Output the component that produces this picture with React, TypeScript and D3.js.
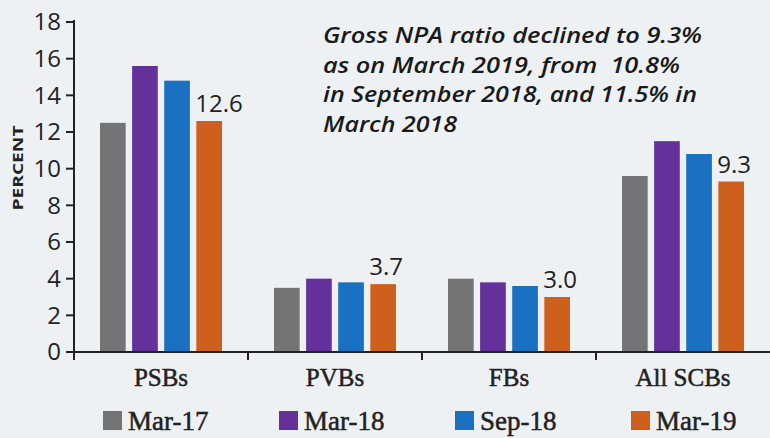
import React from "react";
import * as d3 from "d3";

const categories = ["PSBs", "PVBs", "FBs", "All SCBs"];
const seriesNames = ["Mar-17", "Mar-18", "Sep-18", "Mar-19"];
const mar17 = [12.5, 3.5, 4.0, 9.6];
const mar18 = [15.6, 4.0, 3.8, 11.5];
const sep18 = [14.8, 3.8, 3.6, 10.8];
const mar19 = [12.6, 3.7, 3.0, 9.3];
const seriesValues = [mar17, mar18, sep18, mar19];
const yTicks = [0, 2, 4, 6, 8, 10, 12, 14, 16, 18];
const valueLabels = ["12.6", "3.7", "3.0", "9.3"];
const noteLines = [
  "Gross NPA ratio declined to 9.3%",
  "as on March 2019, from  10.8%",
  "in September 2018, and 11.5% in",
  "March 2018",
];
const noteWidths = [379, 357, 374, 134];

const colors = ["#737475", "#64309a", "#1a70c1", "#cf5f1c"];

export default function App() {
  const W = 770;
  const H = 438;
  const x0 = 74;
  const yZero = 352;
  const yTop = 22;

  const y = d3.scaleLinear().domain([0, 18]).range([yZero, yTop]);
  const xBand = d3.scaleBand<string>().domain(categories).range([x0, W]).paddingInner(0).paddingOuter(0);
  const bw = xBand.bandwidth();
  const groupW = 122;
  const xInner = d3
    .scaleBand<string>()
    .domain(seriesNames)
    .range([(bw - groupW) / 2, (bw + groupW) / 2])
    .paddingInner(0.2);

  const sansFont = "'Open Sans', 'Noto Sans', sans-serif";
  const serifFont = "'Liberation Serif', 'Times New Roman', serif";

  const boundaries = categories.slice(1).map((c) => xBand(c) as number);

  return (
    <svg
      width={W}
      height={H}
      style={{ position: "absolute", left: 0, top: 0, background: "#eef1f4" }}
    >
      <rect x={0} y={0} width={W} height={H} fill="#eef1f4" />

      {/* bars */}
      {categories.map((cat, ci) => (
        <g key={cat} transform={`translate(${xBand(cat)},0)`}>
          {seriesNames.map((s, si) => {
            const v = seriesValues[si][ci];
            return (
              <rect
                key={s}
                x={xInner(s)}
                y={y(v)}
                width={xInner.bandwidth()}
                height={yZero - y(v)}
                fill={colors[si]}
              />
            );
          })}
          <text
            x={(xInner(seriesNames[3]) as number) - 1}
            y={y(mar19[ci]) - 9}
            fontFamily={sansFont}
            fontSize={24}
            fontWeight={500}
            fill="#222"
          >
            {valueLabels[ci]}
          </text>
          <text
            x={bw / 2}
            y={386}
            textAnchor="middle"
            fontFamily={serifFont}
            fontSize={25}
            fill="#222"
            stroke="#222"
            strokeWidth={0.5}
          >
            {cat}
          </text>
        </g>
      ))}

      {/* y axis */}
      <line x1={x0} x2={x0} y1={yTop - 2} y2={yZero + 8} stroke="#222" strokeWidth={2} />
      {yTicks.map((t) => (
        <g key={t}>
          <line x1={x0 - 8} x2={x0} y1={y(t)} y2={y(t)} stroke="#222" strokeWidth={2} />
          <text
            x={61}
            y={y(t)}
            dy="0.35em"
            textAnchor="end"
            fontFamily={sansFont}
            fontSize={24}
            fontWeight={500}
            fill="#222"
          >
            {t}
          </text>
        </g>
      ))}

      {/* x axis */}
      <line x1={x0} x2={W} y1={yZero} y2={yZero} stroke="#222" strokeWidth={2} />
      {boundaries.map((b, i) => (
        <line key={i} x1={b} x2={b} y1={yZero} y2={yZero + 8} stroke="#222" strokeWidth={2} />
      ))}

      {/* y axis title */}
      <text
        transform={`translate(23,168) rotate(-90)`}
        textAnchor="middle"
        fontFamily={sansFont}
        fontSize={15}
        fontWeight={700}
        fill="#222"
        textLength={85}
        lengthAdjust="spacingAndGlyphs"
      >
        PERCENT
      </text>

      {/* annotation */}
      {noteLines.map((line, i) => (
        <text
          key={i}
          x={323}
          y={43 + i * 29.5}
          fontFamily={sansFont}
          fontStyle="italic"
          fontWeight={600}
          fontSize={22}
          fill="#1a1a1a"
          textLength={noteWidths[i]}
          lengthAdjust="spacingAndGlyphs"
          style={{ whiteSpace: "pre" }}
        >
          {line}
        </text>
      ))}

      {/* legend */}
      {seriesNames.map((s, i) => {
        const lx = 103 + i * 176;
        return (
          <g key={s}>
            <rect x={lx} y={411} width={19} height={19} fill={colors[i]} />
            <text
              x={lx + 25}
              y={430}
              fontFamily={serifFont}
              fontSize={27}
              fill="#222"
              stroke="#222"
              strokeWidth={0.5}
            >
              {s}
            </text>
          </g>
        );
      })}
    </svg>
  );
}
